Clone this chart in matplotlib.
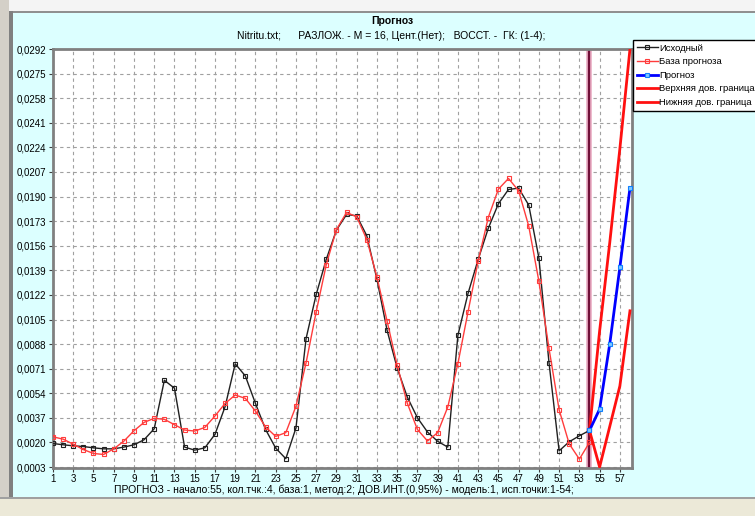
import matplotlib
matplotlib.use("Agg")
import matplotlib.pyplot as plt
from matplotlib.patches import Rectangle

# --- данные ---
x_hist = list(range(1, 55))
ishodny = [0.00193, 0.00184, 0.00177, 0.00172, 0.00163, 0.00156, 0.00156, 0.00168, 0.00184, 0.00219,
           0.00295, 0.00630, 0.00575, 0.00168, 0.00147, 0.00163, 0.00256, 0.00447, 0.00744, 0.00660,
           0.00470, 0.00290, 0.00161, 0.00088, 0.00300, 0.00918, 0.01223, 0.01467, 0.01668, 0.01776,
           0.01767, 0.01629, 0.01329, 0.00976, 0.00715, 0.00514, 0.00371, 0.00272, 0.00208, 0.00168,
           0.00941, 0.01230, 0.01465, 0.01680, 0.01850, 0.01949, 0.01958, 0.01841, 0.01476, 0.00752,
           0.00142, 0.00205, 0.00246, 0.00283]
baza = [0.00239, 0.00223, 0.00188, 0.00151, 0.00124, 0.00117, 0.00156, 0.00209, 0.00281, 0.00339,
        0.00367, 0.00360, 0.00323, 0.00286, 0.00279, 0.00304, 0.00383, 0.00470, 0.00528, 0.00505,
        0.00417, 0.00307, 0.00242, 0.00268, 0.00450, 0.00750, 0.01103, 0.01430, 0.01672, 0.01790,
        0.01760, 0.01603, 0.01345, 0.01040, 0.00734, 0.00471, 0.00290, 0.00210, 0.00268, 0.00445,
        0.00745, 0.01103, 0.01453, 0.01755, 0.01951, 0.02025, 0.01940, 0.01695, 0.01315, 0.00850,
        0.00426, 0.00190, 0.00085, 0.00200]

x_prog = [54, 55, 56, 57, 58]
prognoz = [0.00283, 0.0043, 0.0088, 0.0141, 0.0196]
verhn = [0.00283, 0.0097, 0.0158, 0.0223, 0.0292]
nizhn = [0.00283, 0.0003, 0.0031, 0.0059, 0.0111]

y_ticks = [0.0003, 0.0020, 0.0037, 0.0054, 0.0071, 0.0088, 0.0105, 0.0122, 0.0139,
           0.0156, 0.0173, 0.0190, 0.0207, 0.0224, 0.0241, 0.0258, 0.0275, 0.0292]
x_ticks = list(range(1, 58, 2))

W, H = 755, 516
FONT = "Liberation Sans"

fig = plt.figure(figsize=(W / 100, H / 100), dpi=100, facecolor="#dcffff")


def rect_px(x, y, w, h, color):
    fig.add_artist(Rectangle((x / W, 1 - (y + h) / H), w / W, h / H,
                             transform=fig.transFigure, facecolor=color,
                             edgecolor="none", zorder=-5))


# рамка окна
rect_px(0, 0, W, 11, "#f4f4f4")
rect_px(0, 11, W, 2, "#909090")
rect_px(0, 0, 9, H, "#d4d0c8")
rect_px(9, 11, 4, 487, "#808080")
rect_px(0, 497, W, 2, "#a0a0a0")
rect_px(0, 499, W, H - 499, "#ece9d8")

ax = fig.add_axes([53 / W, 1 - 467.5 / H, (632 - 53) / W, (467.5 - 49) / H])
ax.set_facecolor("white")

ax.plot(x_hist, ishodny, color="#202020", lw=1, marker="s", ms=3,
        mfc="none", mew=0.8, label="Исходный", zorder=3)
ax.plot(x_hist, baza, color="#ff3c3c", lw=1, marker="s", ms=3,
        mfc="none", mew=0.8, label="База прогноза", zorder=4)
ax.axvline(54, color="#e8a8c0", lw=4, zorder=2)
ax.axvline(54, color="#701038", lw=1.6, zorder=2)
ax.plot(x_prog, verhn, color="#ff1010", lw=2, zorder=4)
ax.plot(x_prog, nizhn, color="#ff1010", lw=2, zorder=4)
ax.plot(x_prog, prognoz, color="#0000ff", lw=2, marker="s", ms=3.5,
        mfc="#80c8ff", mec="#1080ff", mew=0.8, label="Прогноз", zorder=5)

ax.set_xlim(1, 58.2)
ax.set_ylim(0.00027, 0.0292)
ax.set_xticks(x_ticks)
ax.set_xticklabels([str(t) for t in x_ticks], fontsize=7, family=FONT)
ax.set_yticks(y_ticks)
ax.set_yticklabels([f"{t:.4f}".replace(".", ",") for t in y_ticks], fontsize=7, family=FONT)
ax.tick_params(length=3, width=0.8, color="#404040", pad=2)
ax.grid(True, color="#a0a0a0", lw=0.8, linestyle=(0, (3, 3)))
for s in ax.spines.values():
    s.set_color("#808080")
    s.set_linewidth(2)

# легенда
h_line = plt.Line2D([], [], color="#ff1010", lw=2)
handles = ax.get_lines()
leg = fig.legend([handles[0], handles[1], handles[6], h_line, h_line],
                 ["Исходный", "База прогноза", "Прогноз",
                  "Верхняя дов. граница", "Нижняя дов. граница"],
                 loc="upper left", bbox_to_anchor=(633 / W, 1 - 40 / H),
                 prop={"family": FONT, "size": 6.8}, frameon=True, fancybox=False,
                 edgecolor="black", facecolor="white", framealpha=1,
                 borderpad=0.4, labelspacing=0.48, handlelength=2.2,
                 handletextpad=0.2, borderaxespad=0)
leg.get_frame().set_linewidth(1)

fig.text(392 / W, 1 - 21 / H, "Прогноз", ha="center", va="center",
         fontsize=7.5, fontweight="bold", family=FONT)
fig.text(391 / W, 1 - 36 / H,
         "Nitritu.txt;      РАЗЛОЖ. - M = 16, Цент.(Нет);   ВОССТ. -  ГК: (1-4);",
         ha="center", va="center", fontsize=7.5, family=FONT)
fig.text(344 / W, 1 - 490 / H,
         "ПРОГНОЗ - начало:55, кол.тчк.:4, база:1, метод:2; ДОВ.ИНТ.(0,95%) - модель:1, исп.точки:1-54;",
         ha="center", va="center", fontsize=7.5, family=FONT)

fig.savefig("out.png", dpi=100, facecolor=fig.get_facecolor())
